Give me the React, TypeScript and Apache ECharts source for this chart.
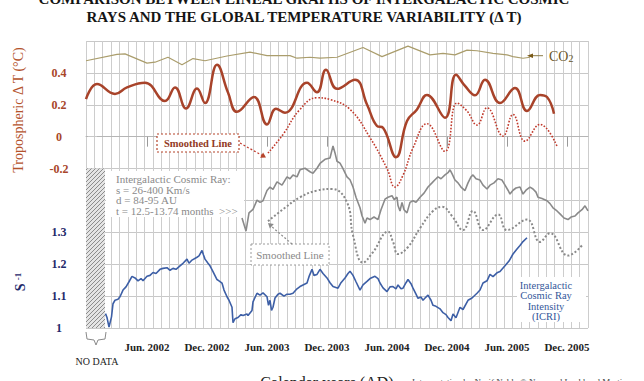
import React, { useEffect, useRef } from 'react';
import * as echarts from 'echarts';

const SERIF = '"Liberation Serif", "DejaVu Serif", serif';

// month index: 0 = Jan 2002
const xTickMonths = [5, 11, 17, 23, 29, 35, 41, 47];
const xTickLabels = ['Jun. 2002', 'Dec. 2002', 'Jun. 2003', 'Dec. 2003', 'Jun. 2004', 'Dec. 2004', 'Jun. 2005', 'Dec. 2005'];
const tempTicks = [0.4, 0.2, 0, -0.2];
const tempTickLabels = ['0.4', '0.2', '0', '-0.2'];
const icrTicks = [1.3, 1.2, 1.1, 1];
const icrTickLabels = ['1.3', '1.2', '1.1', '1'];

const co2: [number, number][] = [
  [-1.1, 0.476], [2, 0.516], [2.8, 0.519], [5, 0.461], [5.8, 0.467], [7.1, 0.498], [8.5, 0.451],
  [9.6, 0.49], [10.8, 0.476], [13, 0.506], [15.3, 0.53], [17, 0.508], [19.3, 0.508], [20, 0.492],
  [21.3, 0.498], [22.3, 0.493], [24, 0.498], [26.6, 0.559], [28.5, 0.502], [31.1, 0.568], [33.3, 0.513],
  [34.6, 0.522], [35.8, 0.513], [37, 0.543], [38, 0.539], [39.6, 0.522], [41, 0.513], [41.6, 0.502],
  [42.6, 0.492], [43.3, 0.498],
];

const tempAnomaly: [number, number][] = [
  [-1.1, 0.236], [0, 0.33], [1.8, 0.268], [3, 0.309], [4.8, 0.338], [6.8, 0.223], [7.8, 0.309],
  [8.9, 0.177], [10, 0.302], [10.8, 0.211], [12, 0.451], [13.1, 0.277], [14, 0.156], [15.7, 0.249],
  [17, 0.077], [17.9, 0.175], [18.8, 0.15], [21, 0.338], [22, 0.278], [22.9, 0.419], [24, 0.3],
  [25.8, 0.357], [27, 0.202], [28, 0.067], [28.6, 0.056], [29.9, -0.129], [31, 0.098], [32, 0.171],
  [33, 0.262], [34.8, 0.119], [35.9, 0.388], [36.8, 0.318], [37.8, 0.259], [38.8, 0.357], [40.3, 0.211],
  [41.8, 0.305], [43, 0.161], [44.3, 0.262], [45, 0.249], [45.7, 0.144],
];

const tempSmoothed: [number, number][] = [
  [17.1, -0.103], [18.6, 0.014], [20.3, 0.171], [22, 0.244], [23.3, 0.233], [25.3, 0.171], [27.3, -0.006],
  [29, -0.2], [29.8, -0.316], [30.6, -0.242], [31.6, -0.071], [33, 0.081], [34.8, -0.092], [36, 0.211],
  [37, 0.161], [38, 0.073], [39, 0.181], [40.6, 0.004], [41.6, 0.139], [42.8, -0.028], [44.3, 0.077],
  [46, -0.06],
];

const icrShifted: [number, number][] = [
  [14.5, 1.345], [14.9, 1.304], [15.2, 1.361], [15.6, 1.372], [16, 1.401], [16.3, 1.394], [16.6, 1.399],
  [17, 1.431], [17.3, 1.442], [17.6, 1.435], [18, 1.458], [18.5, 1.448], [19, 1.474], [19.3, 1.468],
  [19.6, 1.48], [20, 1.474], [20.3, 1.496], [20.8, 1.501], [21.3, 1.49], [21.6, 1.485], [22, 1.501],
  [22.3, 1.516], [22.8, 1.529], [23.3, 1.533], [23.6, 1.571], [23.8, 1.549], [24, 1.523], [24.3, 1.517],
  [24.6, 1.5], [25, 1.474], [25.3, 1.465], [25.6, 1.442], [25.9, 1.41], [26.3, 1.377], [26.5, 1.352],
  [26.8, 1.329], [27, 1.345], [27.3, 1.34], [27.7, 1.348], [28.1, 1.34], [28.4, 1.371], [28.8, 1.404],
  [29.1, 1.41], [29.5, 1.415], [29.7, 1.403], [30, 1.41], [30.1, 1.384], [30.3, 1.367], [30.5, 1.394],
  [30.7, 1.371], [31, 1.361], [31.3, 1.394], [31.6, 1.399], [31.9, 1.394], [32.3, 1.41], [32.7, 1.423],
  [33.1, 1.442], [33.5, 1.455], [33.8, 1.465], [34.1, 1.474], [34.4, 1.468], [34.8, 1.48], [35.1, 1.487],
  [35.3, 1.496], [35.5, 1.484], [35.8, 1.464], [36.1, 1.455], [36.4, 1.442], [36.8, 1.431], [37.1, 1.455],
  [37.4, 1.474], [37.6, 1.48], [37.9, 1.468], [38.3, 1.464], [38.6, 1.448], [39, 1.436], [39.3, 1.448],
  [39.7, 1.455], [40.1, 1.468], [40.5, 1.464], [40.8, 1.448], [41.1, 1.432], [41.3, 1.42], [41.6, 1.432],
  [41.9, 1.439], [42.3, 1.442], [42.6, 1.42], [42.9, 1.432], [43.3, 1.442], [43.6, 1.436], [43.9, 1.426],
  [44.1, 1.41], [44.5, 1.406], [45, 1.399], [45.3, 1.39], [45.6, 1.377], [46, 1.367], [46.3, 1.358],
  [46.7, 1.345], [47.1, 1.34], [47.4, 1.348], [47.8, 1.351], [48.1, 1.361], [48.5, 1.371], [48.8, 1.383],
  [49.1, 1.367],
];

const icrSmoothed: [number, number][] = [
  [17.1, 1.335], [18.8, 1.377], [20.3, 1.41], [22, 1.431], [23.5, 1.436], [25, 1.394], [25.6, 1.291],
  [26.6, 1.205], [27.6, 1.238], [29.1, 1.302], [29.6, 1.27], [30.1, 1.232], [31.1, 1.254], [32.3, 1.313],
  [33.6, 1.367], [34.5, 1.38], [35.5, 1.351], [36.6, 1.307], [37.6, 1.367], [38.6, 1.307], [40.1, 1.356],
  [41, 1.307], [43, 1.34], [44.3, 1.27], [45.3, 1.297], [47.1, 1.227], [48.5, 1.259],
];

const icri: [number, number][] = [
  [0.85, 1.045], [1, 1.033], [1.2, 1.003], [1.45, 1.035], [1.6, 1.076], [1.8, 1.087], [2.1, 1.09],
  [2.3, 1.098], [2.6, 1.119], [2.9, 1.129], [3.2, 1.145], [3.5, 1.162], [3.8, 1.157], [4.1, 1.148],
  [4.4, 1.155], [4.6, 1.148], [5, 1.162], [5.3, 1.165], [5.6, 1.174], [5.9, 1.171], [6.3, 1.184],
  [6.6, 1.187], [7, 1.189], [7.3, 1.181], [7.6, 1.187], [7.9, 1.184], [8.3, 1.195], [8.6, 1.203],
  [9, 1.216], [9.2, 1.203], [9.5, 1.213], [10, 1.222], [10.2, 1.226], [10.5, 1.243], [10.65, 1.229],
  [10.8, 1.216], [11.1, 1.203], [11.3, 1.195], [11.6, 1.177], [12, 1.152], [12.2, 1.148], [12.5, 1.141],
  [12.7, 1.119], [13, 1.098], [13.2, 1.087], [13.5, 1.065], [13.6, 1.017], [13.8, 1.029], [14.1, 1.033],
  [14.4, 1.042], [14.6, 1.039], [15, 1.044], [15.1, 1.039], [15.5, 1.055], [15.6, 1.082], [16, 1.109],
  [16.3, 1.103], [16.6, 1.11], [17, 1.098], [17.15, 1.071], [17.3, 1.087], [17.45, 1.055], [17.6, 1.065],
  [17.8, 1.094], [18.1, 1.106], [18.3, 1.109], [18.7, 1.1], [19, 1.106], [19.3, 1.106], [19.6, 1.109],
  [20, 1.123], [20.3, 1.13], [20.6, 1.135], [21, 1.141], [21.2, 1.161], [21.5, 1.184], [21.7, 1.165],
  [22, 1.168], [22.3, 1.184], [22.6, 1.171], [23, 1.157], [23.3, 1.142], [23.6, 1.13], [24.1, 1.125],
  [24.4, 1.142], [24.8, 1.157], [25.1, 1.171], [25.3, 1.178], [25.6, 1.165], [25.9, 1.145], [26.3, 1.119],
  [26.6, 1.135], [27, 1.146], [27.3, 1.155], [27.8, 1.162], [28.1, 1.155], [28.3, 1.141], [28.6, 1.126],
  [29, 1.114], [29.3, 1.129], [29.6, 1.13], [29.9, 1.123], [30.1, 1.135], [30.4, 1.123], [30.6, 1.125],
  [30.9, 1.142], [31.1, 1.152], [31.4, 1.139], [31.6, 1.125], [31.9, 1.106], [32.1, 1.093], [32.4, 1.097],
  [32.6, 1.087], [32.9, 1.097], [33.1, 1.103], [33.4, 1.087], [33.6, 1.071], [33.9, 1.068], [34.3, 1.06],
  [34.6, 1.048], [34.9, 1.042], [35.1, 1.033], [35.4, 1.023], [35.6, 1.044], [35.9, 1.032], [36.3, 1.065],
  [36.6, 1.058], [37.1, 1.087], [37.5, 1.094], [38, 1.109], [38.3, 1.119], [38.6, 1.141], [39, 1.148],
  [39.3, 1.168], [39.6, 1.161], [40, 1.173], [40.3, 1.177], [40.8, 1.195], [41.2, 1.21], [41.6, 1.232],
  [42, 1.248], [42.3, 1.259], [42.6, 1.271], [43, 1.283],
];

const noDataRange = [-1.1, 0.8];

function txt(x: number, y: number, text: string, style: any, extra: any = {}) {
  return { type: 'text', x, y, z: 20, ...extra, style: { text, fontFamily: SERIF, ...style } };
}

export default function App() {
  const ref = useRef<HTMLDivElement>(null);
  useEffect(() => {
    if (!ref.current) return;
    const chart = echarts.init(ref.current, null, { renderer: 'svg' });

    const hatch = document.createElement('canvas');
    hatch.width = 4;
    hatch.height = 4;
    const ctx = hatch.getContext('2d');
    if (ctx) {
      ctx.fillStyle = '#e4e4e4';
      ctx.fillRect(0, 0, 4, 4);
      ctx.strokeStyle = '#8c8c8c';
      ctx.lineWidth = 1;
      ctx.beginPath();
      ctx.moveTo(-1, 5);
      ctx.lineTo(5, -1);
      ctx.stroke();
    }

    const grayText = '#8a8a8a';
    const graphics: any[] = [
      // title
      txt(304, -1, 'COMPARISON BETWEEN LINEAL GRAPHS OF INTERGALACTIC COSMIC', { fontSize: 15, fontWeight: 'bold', fill: '#151515', align: 'center', verticalAlign: 'middle' }),
      txt(304, 17, 'RAYS AND THE GLOBAL TEMPERATURE VARIABILITY (\u0394 T)', { fontSize: 15, fontWeight: 'bold', fill: '#151515', align: 'center', verticalAlign: 'middle' }),
      // axis names
      txt(18, 110, 'Tropospheric \u0394 T (\u00B0C)', { fontSize: 14, fill: '#b4532c', align: 'center', verticalAlign: 'middle' }, { rotation: Math.PI / 2 }),
      {
        type: 'text', x: 20, y: 282, z: 20, rotation: Math.PI / 2,
        style: {
          text: '{s|S} {e|-1}', align: 'center', verticalAlign: 'middle', fontFamily: SERIF,
          rich: {
            s: { fontSize: 14, fontWeight: 'bold', fill: '#1f2a6b', fontFamily: SERIF },
            e: { fontSize: 9, fontWeight: 'bold', fill: '#1f2a6b', fontFamily: SERIF, verticalAlign: 'top' },
          },
        },
      },
      // CO2 label
      { type: 'line', z: 20, shape: { x1: 531, y1: 55.7, x2: 543, y2: 55.7 }, style: { stroke: '#8c7c48', lineWidth: 1 } },
      { type: 'polygon', z: 20, shape: { points: [[527, 55.7], [533, 53.4], [533, 58]] }, style: { fill: '#7a5a18' } },
      txt(549, 56, 'CO', { fontSize: 14, fill: '#6a5628', verticalAlign: 'middle' }),
      txt(568.5, 58, '2', { fontSize: 10, fill: '#6a5628', verticalAlign: 'middle' }),
      // red smoothed line callout
      { type: 'rect', z: 15, shape: { x: 157, y: 134, width: 82, height: 18 }, style: { fill: '#fff', stroke: '#b5442a', lineWidth: 1.2, lineDash: [2, 2] } },
      txt(198, 143, 'Smoothed Line', { fontSize: 10.5, fontWeight: 'bold', fill: '#923a24', align: 'center', verticalAlign: 'middle' }),
      { type: 'line', z: 15, shape: { x1: 240, y1: 143, x2: 262, y2: 155.4 }, style: { stroke: '#c0392b', lineWidth: 1.2, lineDash: [2, 2] } },
      { type: 'polygon', z: 15, shape: { points: [[266, 157.5], [260.1, 157.7], [263.1, 152.5]] }, style: { fill: '#b5442a' } },
      // cosmic ray note
      { type: 'rect', z: 5, shape: { x: 106, y: 171, width: 138, height: 46 }, style: { fill: '#fff' } },
      txt(116, 179, 'Intergalactic Cosmic Ray:', { fontSize: 11, fill: grayText, verticalAlign: 'middle' }),
      txt(116, 189.5, 's = 26-400 Km/s', { fontSize: 11, fill: grayText, verticalAlign: 'middle' }),
      txt(116, 200, 'd = 84-95 AU', { fontSize: 11, fill: grayText, verticalAlign: 'middle' }),
      txt(116, 210.5, 't = 12.5-13.74 months  >>>', { fontSize: 11, fill: grayText, verticalAlign: 'middle' }),
      // gray smoothed line callout
      { type: 'rect', z: 15, shape: { x: 251, y: 244, width: 78, height: 21 }, style: { fill: '#fff', stroke: '#9a9a9a', lineWidth: 1, lineDash: [2, 2] } },
      txt(290, 254.5, 'Smoothed Line', { fontSize: 11, fill: grayText, align: 'center', verticalAlign: 'middle' }),
      { type: 'line', z: 15, shape: { x1: 292, y1: 244, x2: 271, y2: 226 }, style: { stroke: '#8a8a8a', lineWidth: 1.2, lineDash: [2, 2] } },
      { type: 'polygon', z: 15, shape: { points: [[268, 223], [273.8, 224], [269.8, 228.6]] }, style: { fill: '#8a8a8a' } },
      // ICRI label
      { type: 'rect', z: 5, shape: { x: 517, y: 277, width: 69, height: 45 }, style: { fill: '#fff' } },
      txt(546, 285, 'Intergalactic', { fontSize: 10.5, fill: '#34579a', align: 'center', verticalAlign: 'middle' }),
      txt(546, 295.5, 'Cosmic Ray', { fontSize: 10.5, fill: '#34579a', align: 'center', verticalAlign: 'middle' }),
      txt(546, 306, 'Intensity', { fontSize: 10.5, fill: '#34579a', align: 'center', verticalAlign: 'middle' }),
      txt(546, 316.5, '(ICRI)', { fontSize: 10.5, fill: '#34579a', align: 'center', verticalAlign: 'middle' }),
      // NO DATA bracket
      { type: 'polyline', z: 15, shape: { points: [[86, 332], [87, 339], [94, 340], [96, 345]] }, style: { stroke: '#8a8a8a', lineWidth: 1, fill: null } },
      { type: 'polyline', z: 15, shape: { points: [[106, 332], [105, 339], [98, 340], [96, 345]] }, style: { stroke: '#8a8a8a', lineWidth: 1, fill: null } },
      txt(97, 361, 'NO DATA', { fontSize: 10, fill: '#222', align: 'center', verticalAlign: 'middle' }),
      // bottom texts (partly cut, as in the reference)
      txt(327, 382, 'Calendar years (AD)', { fontSize: 16, fill: '#222', align: 'center', verticalAlign: 'middle' }),
      txt(412, 382, 'Interpretation by Nasif Nahle \u00A9 Nasa and Lockheed Martin', { fontSize: 9, fill: '#444', verticalAlign: 'middle' }),
    ];

    const option: any = {
      animation: false,
      backgroundColor: '#ffffff',
      grid: { left: 86, right: 56, top: 41, bottom: 53, containLabel: false, outerBoundsMode: 'none' },
      xAxis: [
        {
          type: 'value', min: -1.1, max: 49.1, position: 'bottom',
          axisLine: { show: true, lineStyle: { color: '#b5b5b5', width: 1 } },
          axisTick: { show: true, customValues: xTickMonths, length: 10, lineStyle: { color: '#9a9a9a' } },
          axisLabel: {
            show: true, customValues: xTickMonths, margin: 13,
            formatter: (v: number) => xTickLabels[xTickMonths.indexOf(Math.round(v))] ?? '',
            fontFamily: SERIF, fontWeight: 'bold', fontSize: 11, color: '#222',
          },
          splitLine: { show: false },
        },
        {
          type: 'value', min: 0, max: 60, interval: 1, position: 'top',
          axisLine: { show: false }, axisTick: { show: false }, axisLabel: { show: false },
          splitLine: { show: true, lineStyle: { color: '#cdcdcd', width: 1 } },
        },
      ],
      yAxis: [
        {
          type: 'value', min: -1.2, max: 0.6, interval: 0.2, position: 'left',
          axisLine: { show: false },
          axisTick: { show: true, length: 9, lineStyle: { color: '#c8c8c8' } },
          axisLabel: {
            show: true, customValues: tempTicks, margin: 27, align: 'center',
            formatter: (v: number) => tempTickLabels[tempTicks.findIndex((t) => Math.abs(t - v) < 1e-6)] ?? '',
            fontFamily: SERIF, fontWeight: 'bold', fontSize: 12, color: '#a8462a',
          },
          splitLine: { show: true, lineStyle: { color: '#c8c8c8', width: 1 } },
        },
        {
          type: 'value', min: 1.0, max: 1.9, interval: 0.1, position: 'left',
          axisLine: { show: false }, axisTick: { show: false },
          axisLabel: {
            show: true, customValues: icrTicks, margin: 27, align: 'center',
            formatter: (v: number) => icrTickLabels[icrTicks.findIndex((t) => Math.abs(t - v) < 1e-6)] ?? '',
            fontFamily: SERIF, fontWeight: 'bold', fontSize: 12, color: '#1f2a6b',
          },
          splitLine: { show: false },
        },
      ],
      series: [
        {
          name: 'CO2', type: 'line', xAxisIndex: 0, yAxisIndex: 0, data: co2, symbol: 'none',
          lineStyle: { color: '#aa9d6c', width: 1.2 },
        },
        {
          name: 'Tropospheric dT', type: 'line', xAxisIndex: 0, yAxisIndex: 0, data: tempAnomaly, symbol: 'none', smooth: 0.45,
          lineStyle: { color: '#a8432a', width: 2.5 },
        },
        {
          name: 'dT smoothed', type: 'line', xAxisIndex: 0, yAxisIndex: 0, data: tempSmoothed, symbol: 'none', smooth: 0.45,
          lineStyle: { color: '#c0392b', width: 1.6, type: 'dotted' },
        },
        {
          name: 'ICR shifted', type: 'line', xAxisIndex: 0, yAxisIndex: 1, data: icrShifted, symbol: 'none',
          lineStyle: { color: '#8a8a8a', width: 1.6 },
        },
        {
          name: 'ICR smoothed', type: 'line', xAxisIndex: 0, yAxisIndex: 1, data: icrSmoothed, symbol: 'none', smooth: 0.45,
          lineStyle: { color: '#8a8a8a', width: 2, type: 'dotted' },
        },
        {
          name: 'ICRI', type: 'line', xAxisIndex: 0, yAxisIndex: 1, data: icri, symbol: 'none',
          lineStyle: { color: '#3d5fa6', width: 1.6 },
          markArea: {
            silent: true,
            itemStyle: { color: { image: hatch, repeat: 'repeat' } },
            data: [[{ xAxis: noDataRange[0], yAxis: 1.0 }, { xAxis: noDataRange[1], yAxis: 1.5 }]],
          },
        },
      ],
      graphic: graphics,
    };

    chart.setOption(option);
    return () => chart.dispose();
  }, []);
  return <div ref={ref} style={{ position: 'fixed', left: 0, top: 0, width: 644, height: 381, background: '#fff' }} />;
}
